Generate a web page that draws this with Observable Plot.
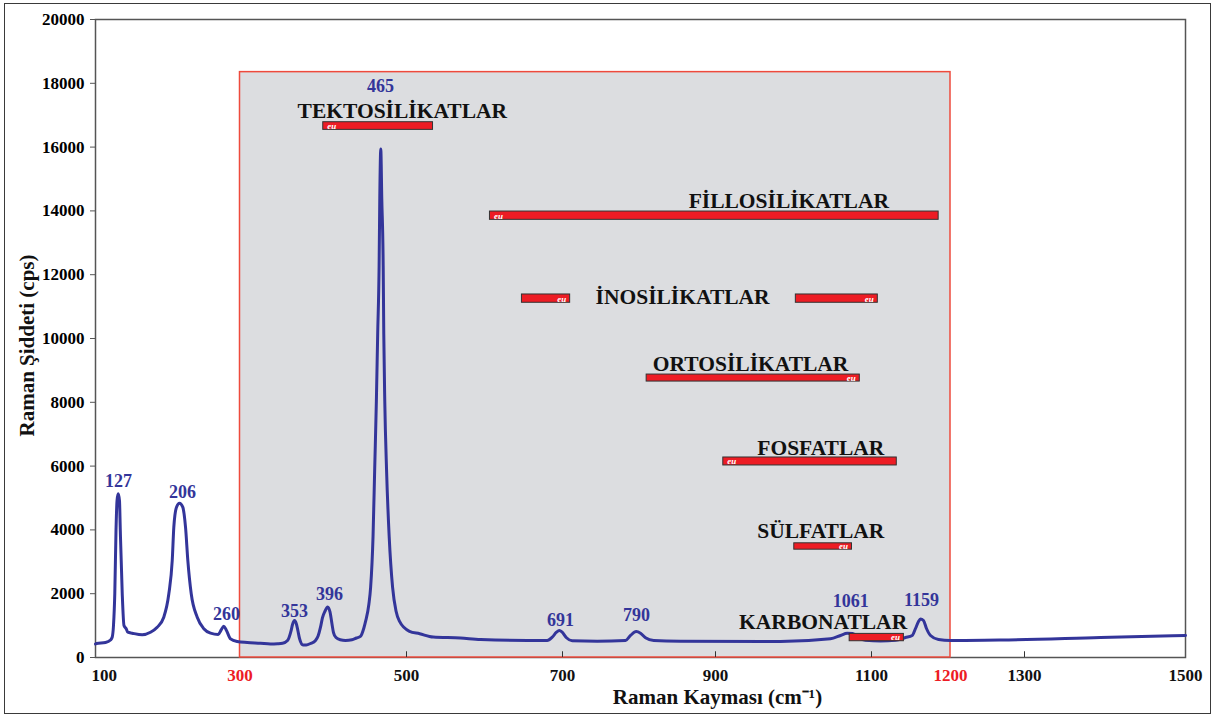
<!DOCTYPE html>
<html><head><meta charset="utf-8">
<script src="https://cdn.jsdelivr.net/npm/d3@7"></script>
<script src="https://cdn.jsdelivr.net/npm/@observablehq/plot@0.6"></script>
<style>
body{margin:0;background:#fff;}
#wrap{position:relative;width:1214px;height:717px;}
#border{position:absolute;left:4px;top:3px;width:1207px;height:711px;border:1.5px solid #3a3a3a;box-sizing:border-box;pointer-events:none;}
</style></head><body><div id="wrap"><div id="border"></div></div>
<script>
// ---- data ----
const ramanShift = [100,101.4,113.8,120.8,123.1,124.9,126.7,128.4,129.8,131.4,133.2,134.3,137.0,139.4,142.5,144.7,150.8,164.6,176.1,185.4,194.5,201.5,206.2,208.4,212.1,216.3,220.8,224.6,227.8,232.5,240.8,249.9,259.2,269.8,274.0,277.6,281.3,286.9,296.1,308.6,324.6,336.6,345.0,351.1,357.1,361.4,363.1,365.5,367.9,369.5,371.5,375.7,379.6,384.7,390.7,393.9,396.7,399.1,402.1,405.3,408.1,410.5,412.3,415.3,420.4,426.7,434.5,439.9,444.7,448.8,450.9,454.8,456.9,459.8,461.8,463.8,465.4,467.1,467.9,469.1,470.3,472.0,472.7,473.9,476.0,479.2,483.3,487.4,491.5,503.8,516.9,534.2,569.2,594.9,680.4,686.8,692.3,695.8,699.6,705.2,712.7,745.4,782.4,788.9,796.3,802.0,808.5,819.3,854.2,983.3,1047.4,1060.3,1068.8,1075.6,1083.3,1092.3,1111.4,1130.4,1143.0,1151.5,1155.7,1159.5,1162.0,1165.8,1169.6,1174.7,1184.8,1200,1267.6,1394.4,1500];
const intensity = [425,439,470,549,636,1003,2006,4000,4920,5132,4920,4000,2006,1003,900,793,762,712,793,950,1263,1997,3040,4085,4712,4838,4712,4085,3040,1997,1263,900,762,721,868,981,846,586,502,470,448,426,433,448,533,846,1035,1160,1035,846,596,395,395,439,533,680,950,1250,1450,1583,1430,1050,780,627,555,533,555,611,661,925,1138,1668,2201,3790,5913,8035,10157,12277,14399,15938,14399,12277,10157,8035,5913,3790,2201,1458,1138,821,746,640,611,564,533,636,793,846,793,618,524,511,533,690,815,762,618,533,511,502,586,690,762,752,627,540,517,540,627,690,909,1129,1207,1160,909,690,564,533,549,627,690];

const peakNames  = ["127","206","260","353","396","465","691","790","1061","1159"];
const peakLabelX = [131.8,220.4,281.3,365.5,407.5,468.8,697.4,796.7,1073.5,1163.3];
const peakLabelY = [5527,5182,1348,1451,1975,17901,1182,1317,1756,1787];

const barNames = ["TEKTOSİLİKATLAR","FİLLOSİLİKATLAR","İNOSİLİKATLAR","İNOSİLİKATLAR","ORTOSİLİKATLAR","FOSFATLAR","SÜLFATLAR","KARBONATLAR"];
const barFrom  = [400,607,648,1003,810,910,1001,1072];
const barTo    = [534,1185,710,1108,1085,1132,1075,1141];
const barLow   = [16540,13720,11120,11120,8650,6020,3380,510];
const barHigh  = [16780,13980,11380,11380,8870,6270,3580,740];
const euSide   = ["left","left","right","right","right","left","right","right"];

const groupNames = ["TEKTOSİLİKATLAR","FİLLOSİLİKATLAR","İNOSİLİKATLAR","ORTOSİLİKATLAR","FOSFATLAR","SÜLFATLAR","KARBONATLAR"];
const groupLabelX = [495,994,857,945,1035,1035,1038];
const groupLabelY = [17130,14310,11300,9200,6570,3950,1110];

const regionBounds = [300,1200];
const regionTop = 18350;

const xTickValues = [100,500,700,900,1100,1300,1500];
const redTickValues = [300,1200];
const xScaleBreaks = [100,300,500,700,900,1100,1200,1300,1500];
const yTickValues = [0,2000,4000,6000,8000,10000,12000,14000,16000,18000,20000];

// ---- derived tables ----
const spectrum = ramanShift.map((x,i)=>({x, y:intensity[i]}));
const peaks = peakNames.map((t,i)=>({t, x:peakLabelX[i], y:peakLabelY[i]}));
const bars = barNames.map((n,i)=>({n, x1:barFrom[i], x2:barTo[i], y1:barLow[i], y2:barHigh[i], side:euSide[i]}));
const groups = groupNames.map((n,i)=>({n, x:groupLabelX[i], y:groupLabelY[i]}));

const BLUE = "#33359a";
const RED = "#ed1c24";
const serif = "'Liberation Serif','Times New Roman',serif";

const chart = Plot.plot({
  width: 1214, height: 717,
  marginLeft: 95, marginRight: 29, marginTop: 19, marginBottom: 60,
  style: {fontFamily: serif, fontWeight: "bold", fontSize: "17px", background: "transparent"},
  x: {type: "linear", domain: xScaleBreaks, range: [95,239.5,406,562,715,871,950,1024,1185], axis: null},
  y: {domain: [0,20000], axis: null},
  marks: [
    Plot.frame({stroke: "#555", strokeWidth: 1.5}),
    Plot.rect([regionBounds], {x1: d=>d[0], x2: d=>d[1], y1: 0, y2: regionTop, fill: "#dcdde0", stroke: "#ee4a3c", strokeWidth: 1.5}),
    Plot.ruleX(xTickValues.slice(1,-1), {x: d=>d, y1: 0, y2: 180, stroke: "#333", strokeWidth: 1}),
    Plot.line(spectrum, {x: "x", y: "y", stroke: BLUE, strokeWidth: 3, curve: "monotone-x"}),
    Plot.rect(bars, {x1: "x1", x2: "x2", y1: "y1", y2: "y2", fill: RED, stroke: "#333", strokeWidth: 1}),
    Plot.text(bars.filter(d=>d.side==="left"), {x: "x1", y: d=>(d.y1+d.y2)/2, text: d=>"eu", textAnchor: "start", dx: 4, fill: "white", fontSize: 9, fontStyle: "italic"}),
    Plot.text(bars.filter(d=>d.side==="right"), {x: "x2", y: d=>(d.y1+d.y2)/2, text: d=>"eu", textAnchor: "end", dx: -4, fill: "white", fontSize: 9, fontStyle: "italic"}),
    Plot.text(groups, {x: "x", y: "y", text: "n", fill: "#111", fontSize: 21.5}),
    Plot.text(peaks, {x: "x", y: "y", text: "t", fill: BLUE, fontSize: 18}),
    Plot.axisY(yTickValues, {tickSize: 5, tickPadding: 6, label: null, fontSize: 17, stroke: "#555", tickFormat: d=>String(d)}),
    Plot.text(xTickValues.slice(1), {x: d=>d, frameAnchor: "bottom", lineAnchor: "middle", dy: 18, text: d=>String(d), fill: "#111", fontSize: 17}),
    Plot.text(xTickValues.slice(0,1), {x: d=>d, frameAnchor: "bottom", lineAnchor: "middle", dy: 18, text: d=>String(d), textAnchor: "start", dx: -4, fill: "#111", fontSize: 17}),
    Plot.text(redTickValues, {x: d=>d, frameAnchor: "bottom", lineAnchor: "middle", dy: 18, text: d=>String(d), fill: RED, fontSize: 17}),
    Plot.text(["Raman Kayması (cm⁻¹)"], {frameAnchor: "bottom", lineAnchor: "middle", textAnchor: "middle", dx: 77, dy: 40, fontSize: 21, fill: "#111"}),
    Plot.text(["Raman Şiddeti (cps)"], {frameAnchor: "left", textAnchor: "middle", lineAnchor: "middle", dx: -68, dy: 7, rotate: -90, fontSize: 21, fill: "#111"})
  ]
});
document.getElementById("wrap").appendChild(chart);
</script></body></html>
